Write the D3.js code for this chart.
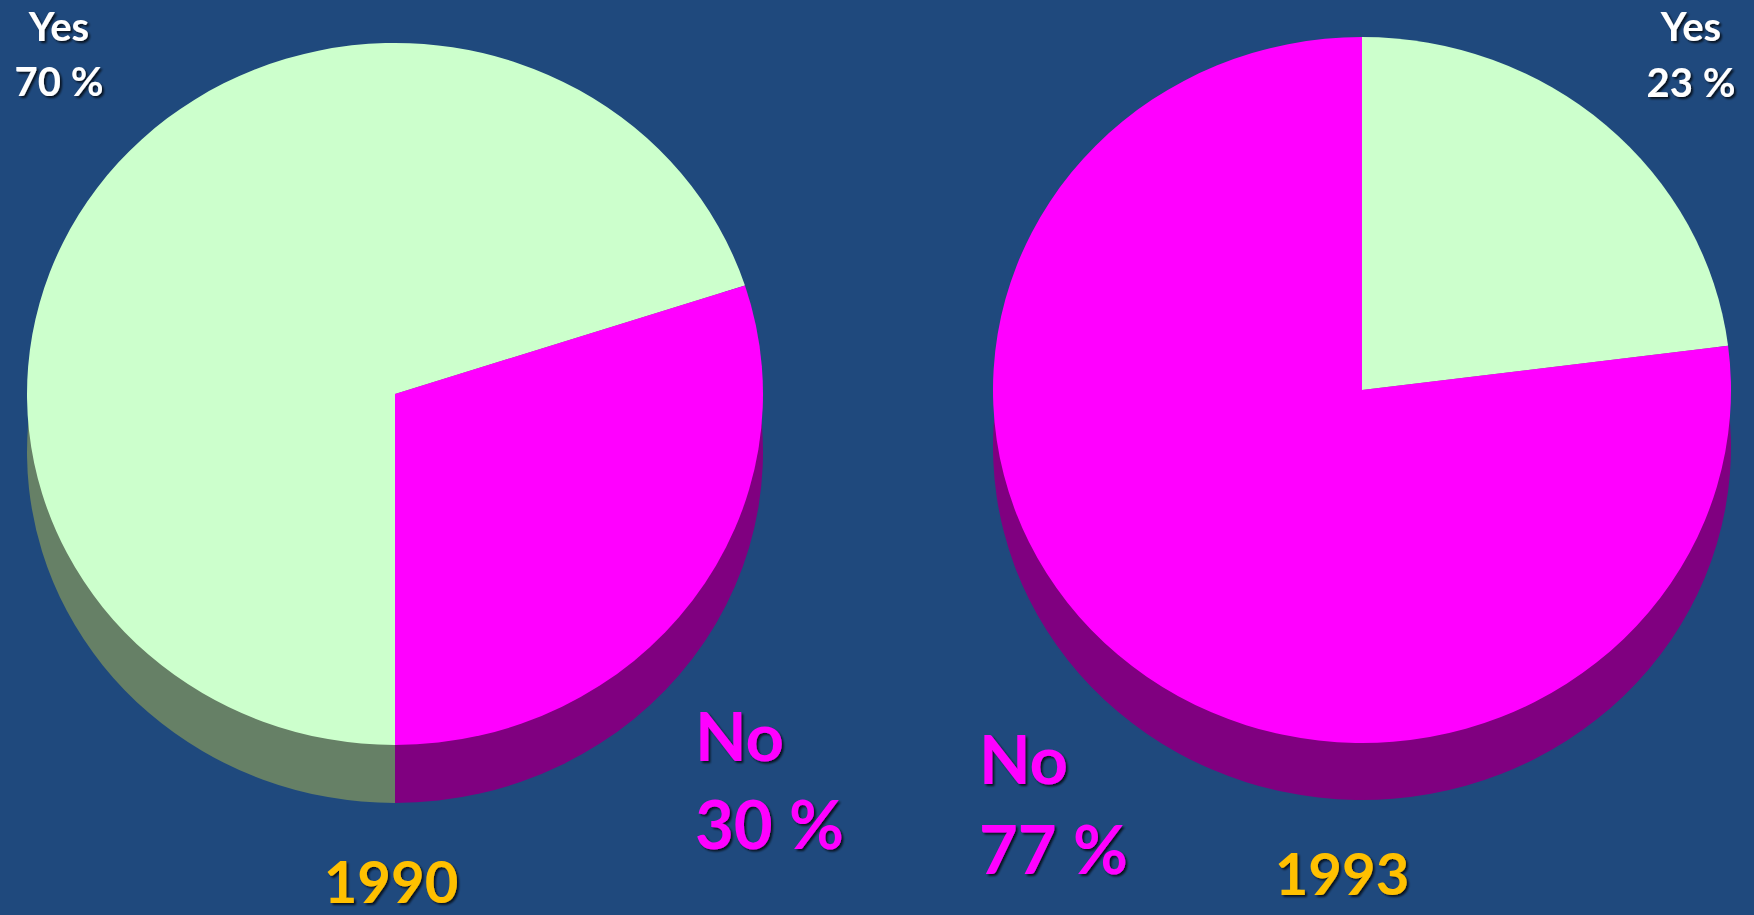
<!DOCTYPE html>
<html>
<head>
<meta charset="utf-8">
<script src="https://cdn.jsdelivr.net/npm/d3@7"></script>
<style>
html,body{margin:0;padding:0;background:#1F497D;overflow:hidden;}
svg{display:block;}
text{font-family:Lato,"Open Sans",sans-serif;font-weight:700;}
</style>
</head>
<body>
<svg id="chart" width="1754" height="915"></svg>
<script>
// ---- data ----
const categories = ["Yes", "No"];
const years = ["1990", "1993"];
const values1990 = [70, 30];
const values1993 = [23, 77];
const valueLabels1990 = ["70 %", "30 %"];
const valueLabels1993 = ["23 %", "77 %"];

// ---- styles / layout ----
const W = 1754, H = 915;
const topColor = d3.scaleOrdinal().domain(categories).range(["#CCFFCC", "#FF00FF"]);
const sideColor = d3.scaleOrdinal().domain(categories).range(["#668066", "#800080"]);
const labelColor = d3.scaleOrdinal().domain(categories).range(["#FFFFFF", "#FF00FF"]);

const svg = d3.select("#chart");
svg.append("rect").attr("width", W).attr("height", H).attr("fill", "#1F497D");

const defs = svg.append("defs");
const f = defs.append("filter").attr("id", "shadow").attr("x", "-20%").attr("y", "-20%").attr("width", "140%").attr("height", "140%");
f.append("feDropShadow").attr("dx", 2).attr("dy", 2).attr("stdDeviation", 1.2)
  .attr("flood-color", "#000").attr("flood-opacity", 0.75);

const pies = [
  { year: years[0], values: values1990, labels: valueLabels1990, cx: 395, cy: 394, rx: 368, ry: 351, depth: 58, start: Math.PI,
    yearPos: [391, 903],
    labelPos: { Yes: { x: 59, y1: 41, y2: 96, anchor: "middle" }, No: { x: 695, y1: 761, y2: 849, anchor: "start" } } },
  { year: years[1], values: values1993, labels: valueLabels1993, cx: 1362, cy: 390, rx: 369, ry: 353, depth: 57, start: 0,
    yearPos: [1342, 895],
    labelPos: { Yes: { x: 1691, y1: 41, y2: 97, anchor: "middle" }, No: { x: 979, y1: 784, y2: 874, anchor: "start" } } }
];

pies.forEach(p => {
  const pie = d3.pie().sort(null).value(d => d.v)
    .startAngle(p.start).endAngle(p.start + 2 * Math.PI);
  const arcs = pie(categories.map((c, i) => ({ c, v: p.values[i] })));
  const arc = d3.arc().innerRadius(0).outerRadius(p.ry);
  const sx = p.rx / p.ry;

  // side (extruded layer)
  const side = svg.append("g").attr("transform", `translate(${p.cx},${p.cy + p.depth}) scale(${sx},1)`);
  side.selectAll("path").data(arcs).join("path")
    .attr("d", arc).attr("fill", d => sideColor(d.data.c));
  // top face
  const top = svg.append("g").attr("transform", `translate(${p.cx},${p.cy}) scale(${sx},1)`);
  top.selectAll("path").data(arcs).join("path")
    .attr("d", arc).attr("fill", d => topColor(d.data.c));

  // labels
  categories.forEach((c, i) => {
    const lp = p.labelPos[c];
    const size = c === "Yes" ? 40 : 67;
    const g = svg.append("g").attr("filter", "url(#shadow)");
    g.append("text").attr("x", lp.x).attr("y", lp.y1).attr("text-anchor", lp.anchor)
      .attr("font-size", size).attr("fill", labelColor(c)).text(c);
    g.append("text").attr("x", lp.x).attr("y", lp.y2).attr("text-anchor", lp.anchor)
      .attr("font-size", size).attr("fill", labelColor(c)).text(p.labels[i]);
  });

  svg.append("text").attr("filter", "url(#shadow)")
    .attr("x", p.yearPos[0]).attr("y", p.yearPos[1]).attr("text-anchor", "middle")
    .attr("font-size", 58).attr("fill", "#FFC000").text(p.year);
});
</script>
</body>
</html>
